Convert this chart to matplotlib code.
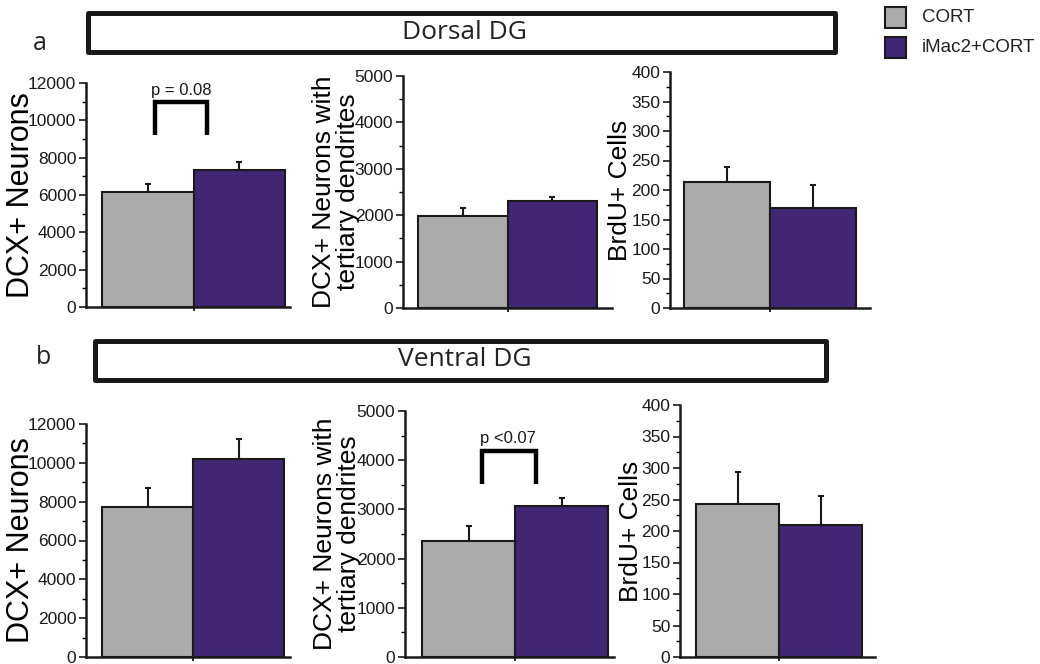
import matplotlib
matplotlib.use("Agg")
import matplotlib.pyplot as plt
from matplotlib.patches import Rectangle
from matplotlib.ticker import MultipleLocator

plt.rcParams['font.family'] = ['Liberation Sans', 'DejaVu Sans']

# data
groups = ["CORT", "iMac2+CORT"]
colors = ["#ababab", "#402673"]

ylabels = ["DCX+ Neurons", "DCX+ Neurons with\ntertiary dendrites", "BrdU+ Cells"]
ymax = [12000, 5000, 400]
ymajor = [2000, 1000, 50]
yminor = [1000, 500, 25]

dorsal_mean = [[6180, 7340], [1980, 2310], [213, 170]]
dorsal_err = [[410, 450], [180, 80], [26, 39]]
ventral_mean = [[7700, 10200], [2360, 3060], [243, 210]]
ventral_err = [[980, 1030], [310, 170], [50, 46]]

# significance brackets, keyed by (panel, row)
sig_label = {(0, 0): "p = 0.08", (1, 1): "p <0.07"}
sig_top = {(0, 0): 10960, (1, 1): 4190}
sig_bottom = {(0, 0): 9200, (1, 1): 3520}
sig_x = {(0, 0): (0.08, 0.65), (1, 1): (0.14, 0.73)}
sig_text_x = {(0, 0): 0.37, (1, 1): 0.42}

W, H = 1040, 664
fig = plt.figure(figsize=(W / 100, H / 100), dpi=100)


def px_axes(x0, x1, y0, y1):
    # pixel box (left, right, bottom y, top y) -> figure fraction
    return fig.add_axes([x0 / W, 1 - y0 / H, (x1 - x0) / W, (y0 - y1) / H])


# axis pixel layouts: (axis x, bar left, bar mid, bar right, axis end, y0, ytop, ylabel x)
layout = [
    [(86, 102, 193, 285, 290, 307, 83, 36),
     (403, 418, 507, 597, 612, 308, 76, 360),
     (670, 684, 769, 856, 870, 308, 72, 632)],
    [(86, 102, 192, 284, 290, 657, 424, 36),
     (405, 422, 514, 608, 614, 657, 411, 361),
     (680, 696, 778, 862, 875, 657, 405, 643)],
]
label_size = [22, 19, 19]

for r, (means, errs) in enumerate([(dorsal_mean, dorsal_err), (ventral_mean, ventral_err)]):
    for c in range(3):
        ax_x, bl, bm, br, ae, y0, yt, lab_x = layout[r][c]
        ax = px_axes(ax_x, ae, y0, yt)
        bw = (br - bl) / 2
        left = -0.5 - (bl - ax_x) / bw
        right = 1.5 + (ae - br) / bw
        ax.bar([0, 1], means[c], width=1, color=colors, edgecolor="#1a1a1a", linewidth=1.5, zorder=2)
        for i in range(2):
            ax.errorbar(i, means[c][i], yerr=[[0], [errs[c][i]]], fmt="none",
                        ecolor="#1a1a1a", elinewidth=1.5, capsize=2.5, capthick=1.5, zorder=1)
        ax.set_xlim(left, right)
        ax.set_ylim(0, ymax[c])
        ax.yaxis.set_major_locator(MultipleLocator(ymajor[c]))
        ax.yaxis.set_minor_locator(MultipleLocator(yminor[c]))
        ax.set_xticks([0.5])
        ax.set_xticklabels([])
        ax.tick_params(axis="x", length=3, width=1.2, direction="out")
        ax.tick_params(axis="y", which="major", length=5, width=1.2, labelsize=12.5, pad=2,
                       colors="#1a1a1a")
        ax.tick_params(axis="y", which="minor", length=3, width=1)
        for s in ["top", "right"]:
            ax.spines[s].set_visible(False)
        for s in ["left", "bottom"]:
            ax.spines[s].set_linewidth(1.8)
            ax.spines[s].set_color("#1a1a1a")
        ax.set_ylabel(ylabels[c], fontsize=label_size[c], linespacing=1.0)
        ax.yaxis.set_label_coords((lab_x - ax_x) / (ae - ax_x), 0.5)
        key = (c, r)
        if key in sig_top:
            t, b = sig_top[key], sig_bottom[key]
            xa, xb = sig_x[key]
            ax.plot([xa, xa, xb, xb], [b, t, t, b], color="black", lw=3.2,
                    solid_joinstyle="miter", solid_capstyle="butt", clip_on=False)
            ax.text(sig_text_x[key], t + ymax[c] * 0.02, sig_label[key],
                    ha="center", va="bottom", fontsize=12, color="#1a1a1a")

# header boxes
for (x0, x1, y0, y1, title, tx, letter, lx, ly) in [
        (87.5, 834.5, 13.5, 51.5, "Dorsal DG", 465, "a", 40, 43),
        (94.5, 825.5, 340.5, 379.5, "Ventral DG", 465, "b", 43, 358)]:
    fig.patches.append(Rectangle((x0 / W, 1 - y1 / H), (x1 - x0) / W, (y1 - y0) / H,
                                 transform=fig.transFigure, fill=False, edgecolor="#1a1a1a",
                                 linewidth=3.6, joinstyle="round"))
    fig.text(tx / W, 1 - (y0 + y1) / 2 / H, title, ha="center", va="center",
             fontsize=19, family=["Open Sans", "DejaVu Sans"], color="#222222")
    fig.text(lx / W, 1 - ly / H, letter, ha="center", va="center",
             fontsize=18, family=["Open Sans", "DejaVu Sans"], color="#222222")

# legend
for i, g in enumerate(groups):
    yc = 17 + i * 30
    fig.patches.append(Rectangle((885 / W, 1 - (yc + 10.5) / H), 21 / W, 21 / H,
                                 transform=fig.transFigure, facecolor=colors[i],
                                 edgecolor="#1a1a1a", linewidth=1.5))
    fig.text(922 / W, 1 - yc / H, g, ha="left", va="center", fontsize=13.5, color="#222222")

fig.savefig("out.png", dpi=100)
